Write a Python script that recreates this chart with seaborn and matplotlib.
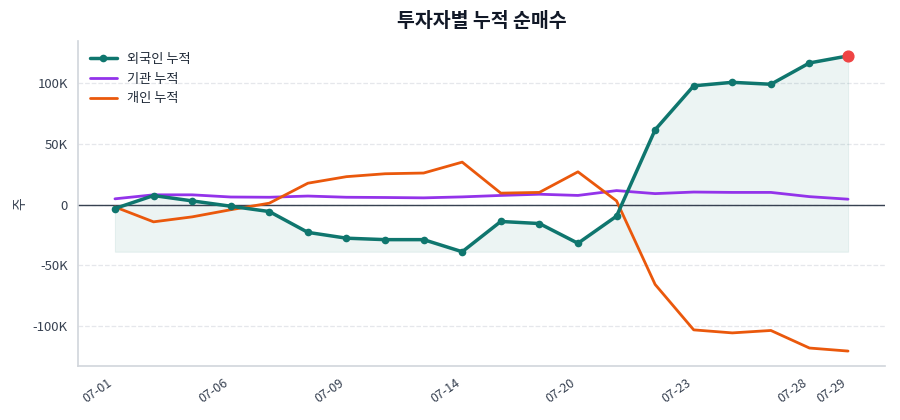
import numpy as np
import pandas as pd
import seaborn as sns
import matplotlib.pyplot as plt
from matplotlib.ticker import FuncFormatter

# trading days (July)
dates = ["07-01", "07-02", "07-03", "07-06", "07-07", "07-08", "07-09", "07-10",
         "07-13", "07-14", "07-15", "07-16", "07-20", "07-21", "07-22", "07-23",
         "07-24", "07-27", "07-28", "07-29"]

# cumulative net buying (shares)
foreign_cum = [-3300, 7400, 3000, -1400, -5800, -23000, -27800, -29000, -29000, -39000,
               -14000, -15700, -32000, -9600, 61700, 98000, 100900, 99300, 116900, 122700]
inst_cum = [4700, 8000, 8000, 6200, 6000, 7000, 6000, 5800, 5500, 6300,
            7500, 8500, 7500, 11500, 9000, 10300, 10000, 10000, 6500, 4400]
indiv_cum = [-2000, -14300, -10200, -4300, 1100, 17600, 23000, 25400, 26000, 35000,
             9400, 10000, 27000, 3000, -66000, -103500, -106000, -104000, -118500, -121000]

tick_idx = [0, 3, 6, 9, 12, 15, 18, 19]

df = pd.DataFrame({
    "idx": np.arange(len(dates)),
    "date": dates,
    "외국인 누적": foreign_cum,
    "기관 누적": inst_cum,
    "개인 누적": indiv_cum,
})

sns.set_style("white")
plt.rcParams['font.family'] = ['Noto Sans CJK KR', 'DejaVu Sans']
plt.rcParams['axes.unicode_minus'] = False

teal = "#0f766e"
purple = "#9333ea"
orange = "#ea580c"
text_col = "#374151"

fig, ax = plt.subplots(figsize=(9, 4.2), dpi=100)

fmin = df["외국인 누적"].min()
ax.fill_between(df["idx"], df["외국인 누적"], fmin, color=teal, alpha=0.08, linewidth=0.8)

sns.lineplot(data=df, x="idx", y="외국인 누적", ax=ax, color=teal, linewidth=2.5,
             marker="o", markersize=5.5, markeredgewidth=0, label="외국인 누적", zorder=4)
sns.lineplot(data=df, x="idx", y="기관 누적", ax=ax, color=purple, linewidth=2,
             label="기관 누적", zorder=3)
sns.lineplot(data=df, x="idx", y="개인 누적", ax=ax, color=orange, linewidth=2,
             label="개인 누적", zorder=3)

last = df.iloc[-1]
ax.scatter([last["idx"]], [last["외국인 누적"]], s=60, color="#ef4444", zorder=5)

ax.axhline(0, color="#374151", linewidth=1, zorder=2)

ax.set_xticks(tick_idx)
ax.set_xticklabels([dates[i] for i in tick_idx], rotation=35, ha="right", fontsize=9, color=text_col)
ax.yaxis.set_major_formatter(FuncFormatter(lambda v, p: "0" if v == 0 else f"{v/1000:.0f}K"))
ax.tick_params(axis="y", labelsize=9.5, labelcolor=text_col, color="#9ca3af", length=4, width=1)
ax.tick_params(axis="x", color="#9ca3af", length=4, width=1)
ax.margins(x=0.05, y=0.05)

ax.yaxis.grid(True, linestyle="--", color="#e5e7eb", linewidth=0.9)
ax.set_axisbelow(True)
for s in ["top", "right"]:
    ax.spines[s].set_visible(False)
for s in ["left", "bottom"]:
    ax.spines[s].set_color("#d1d5db")
    ax.spines[s].set_linewidth(1.2)

ax.set_xlabel("")
ax.set_ylabel("주", fontsize=10, color=text_col)
ax.set_title("투자자별 누적 순매수", fontsize=14, fontweight="bold", color="#111827", pad=10)

ax.legend(loc="upper left", frameon=False, fontsize=9.5, labelcolor="#1f2937")

fig.subplots_adjust(left=0.087, right=0.983, top=0.902, bottom=0.129)
fig.savefig("out.png", dpi=100)
